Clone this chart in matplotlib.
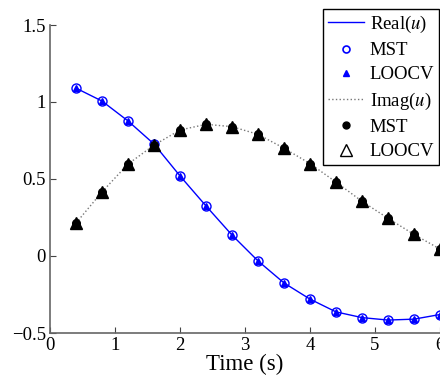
import matplotlib
matplotlib.use("Agg")
import matplotlib.pyplot as plt

plt.rcParams['font.family'] = ['Liberation Serif', 'DejaVu Serif']
plt.rcParams['mathtext.fontset'] = 'stix'

time = [0.4, 0.8, 1.2, 1.6, 2.0, 2.4, 2.8, 3.2, 3.6, 4.0, 4.4, 4.8, 5.2, 5.6, 6.0]
real_u = [1.09, 1.006, 0.877, 0.727, 0.52, 0.325, 0.136, -0.032, -0.175, -0.28,
          -0.363, -0.40, -0.416, -0.41, -0.38]
imag_u = [0.214, 0.416, 0.597, 0.72, 0.818, 0.855, 0.84, 0.79, 0.70, 0.60,
          0.48, 0.355, 0.245, 0.14, 0.045]
xticks = [0, 1, 2, 3, 4, 5, 6]
yticks = [-0.5, 0, 0.5, 1, 1.5]

fig = plt.figure(figsize=(4.4, 3.8), dpi=100)
ax = fig.add_axes([50/440, 1-333/380, 1-50/440, (333-25)/380])

fs = 13.5
l1, = ax.plot(time, real_u, '-', color='#0000ff', lw=1.0)
l2, = ax.plot(time, real_u, 'o', mfc='none', mec='#0000ff', ms=6.5, mew=1.0, ls='none')
l3, = ax.plot(time, real_u, '^', color='#0000ff', ms=4, ls='none')
l4, = ax.plot(time, imag_u, ':', color='#777777', lw=1.0)
l5, = ax.plot(time, imag_u, 'o', color='black', ms=5.5, ls='none')
l6, = ax.plot(time, imag_u, '^', mfc='black', mec='black', ms=9, mew=1.0, ls='none')
# legend-only handles
h2, = ax.plot([], [], 'o', mfc='none', mec='#0000ff', ms=5, mew=1.2, ls='none')
h5, = ax.plot([], [], 'o', color='black', ms=5, ls='none')
h6, = ax.plot([], [], '^', mfc='white', mec='black', ms=8, mew=1.0, ls='none')

ax.set_xlim(0, 6)
ax.set_ylim(-0.5, 1.5)
ax.set_xticks(xticks)
ax.set_yticks(yticks)
ax.set_xticklabels([str(t) for t in xticks])
ax.set_yticklabels(['\u22120.5', '0', '0.5', '1', '1.5'])
ax.tick_params(direction='in', length=4, labelsize=fs, color='#444444', pad=3)
for s in ['top', 'right']:
    ax.spines[s].set_visible(False)
for s in ['left', 'bottom']:
    ax.spines[s].set_color('#666666')
    ax.spines[s].set_linewidth(1.2)
ax.set_xlabel('Time (s)', fontsize=16.5, labelpad=0)

leg = fig.legend([l1, h2, l3, l4, h5, h6],
                 ['Real($u$)', 'MST', 'LOOCV', 'Imag($u$)', 'MST', 'LOOCV'],
                 loc='upper left', bbox_to_anchor=(323/440, 1-9/380),
                 fontsize=fs, frameon=True, fancybox=False, edgecolor='black',
                 framealpha=1, handlelength=1.95, handletextpad=0.3,
                 borderpad=0.25, labelspacing=0.38, borderaxespad=0)
leg.get_frame().set_linewidth(1.0)

fig.savefig('out.png', dpi=100)
